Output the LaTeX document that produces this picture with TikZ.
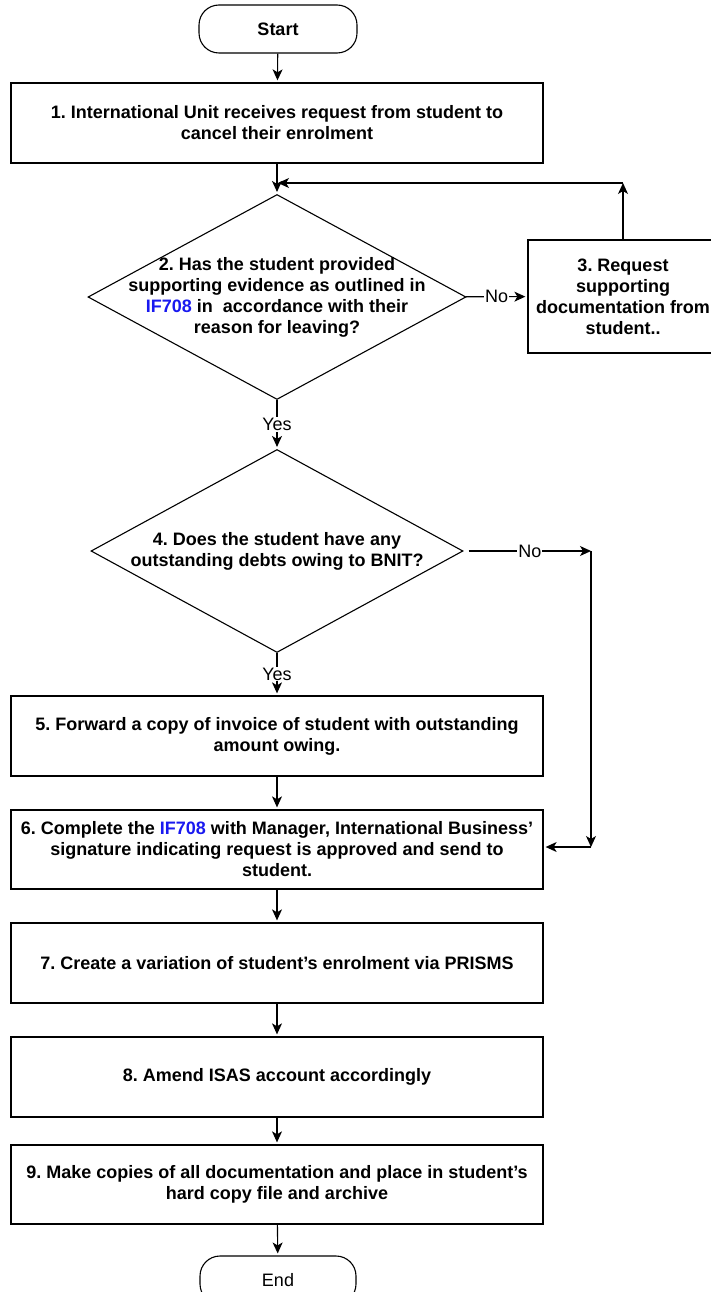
\documentclass[tikz,border=0pt]{standalone}
\usepackage{fontspec}
\setmainfont{Liberation Sans}
\usepackage{xcolor}
\usetikzlibrary{shapes.geometric, arrows.meta, positioning}
\definecolor{linkblue}{RGB}{25,25,240}
\newcommand{\chartfont}{\fontsize{18}{21}\selectfont\frenchspacing}
\tikzset{
    terminal/.style={rectangle, rounded corners=20pt, minimum width=158pt, minimum height=48pt, text centered, draw, line width=1.1pt, align=center, font=\chartfont},
    process/.style={rectangle, minimum width=532pt, minimum height=80pt, text centered, draw, line width=1.3pt, align=center, font=\chartfont\bfseries},
    decision/.style={diamond, minimum width=378pt, minimum height=205pt, draw, line width=1.1pt, inner sep=0pt},
    qtext/.style={align=center, font=\chartfont\bfseries},
    flow/.style={-{Stealth[length=11pt,width=10pt,inset=3pt]}, line width=1.1pt, shorten >=2pt},
    branch/.style={fill=white, inner sep=1pt, font=\chartfont}
}

\begin{document}
\begin{tikzpicture}[x=1pt, y=-1pt]
    \useasboundingbox (0,0) rectangle (710,1292);

    % Terminals
    \node[terminal, font=\chartfont\bfseries] (start) at (278,29) {Start};
    \node[terminal, minimum width=156pt] (end) at (278,1280) {End};

    % Steps and decisions
    \node[process] (s1) at (277,123) {1. International Unit receives request from student to\\cancel their enrolment};
    \node[decision] (d2) at (277,297) {};
    \node[qtext] (d2txt) at (d2.center) {2. Has the student provided\\supporting evidence as outlined in\\\textcolor{linkblue}{IF708} in\ \ accordance with their\\reason for leaving?};
    \node[process, minimum width=190pt, minimum height=113pt] (s3) at (623,296.5) {3. Request\\supporting\\documentation from\\student..};
    \node[decision, minimum width=372pt, minimum height=203pt] (d4) at (277,551) {};
    \node[qtext] (d4txt) at (d4.center) {4. Does the student have any\\outstanding debts owing to BNIT?};
    \node[process] (s5) at (277,736) {5. Forward a copy of invoice of student with outstanding\\amount owing.};
    \node[process, minimum height=79pt] (s6) at (277,849.5) {6. Complete the \textcolor{linkblue}{IF708} with Manager, International Business’\\signature indicating request is approved and send to\\student.};
    \node[process] (s7) at (277,963) {7. Create a variation of student’s enrolment via PRISMS};
    \node[process] (s8) at (277,1077) {8. Amend ISAS account accordingly};
    \node[process, minimum height=79pt] (s9) at (277,1184.5) {9. Make copies of all documentation and place in student’s\\hard copy file and archive};

    % Bends
    \coordinate (loopup) at (623,183);
    \coordinate (loopin) at (278,183);
    \coordinate (nocorner) at (591,551);
    \coordinate (nodrop) at (591,847);

    % Links
    \draw[flow] (start) -- (s1);
    \draw[flow] (s1) -- (d2);
    \draw[flow] (d2) -- node[branch] {No} (s3);
    \draw[flow, shorten >=0pt] (s3) -- (loopup);
    \draw[flow, shorten >=0pt] (loopup) -- (loopin);
    \draw[flow] (d2) -- node[branch] {Yes} (d4);
    \draw[flow] (d4) -- node[branch] {Yes} (s5);
    \draw[flow, shorten >=0pt] (d4.east) ++(5,0) -- node[branch] {No} (nocorner);
    \draw[flow, shorten >=0pt] (nocorner) -- (nodrop);
    \draw[flow] (nodrop) -- (nodrop -| s6.east);
    \draw[flow] (s5) -- (s6);
    \draw[flow] (s6) -- (s7);
    \draw[flow] (s7) -- (s8);
    \draw[flow] (s8) -- (s9);
    \draw[flow] (s9) -- (end);
\end{tikzpicture}
\end{document}
